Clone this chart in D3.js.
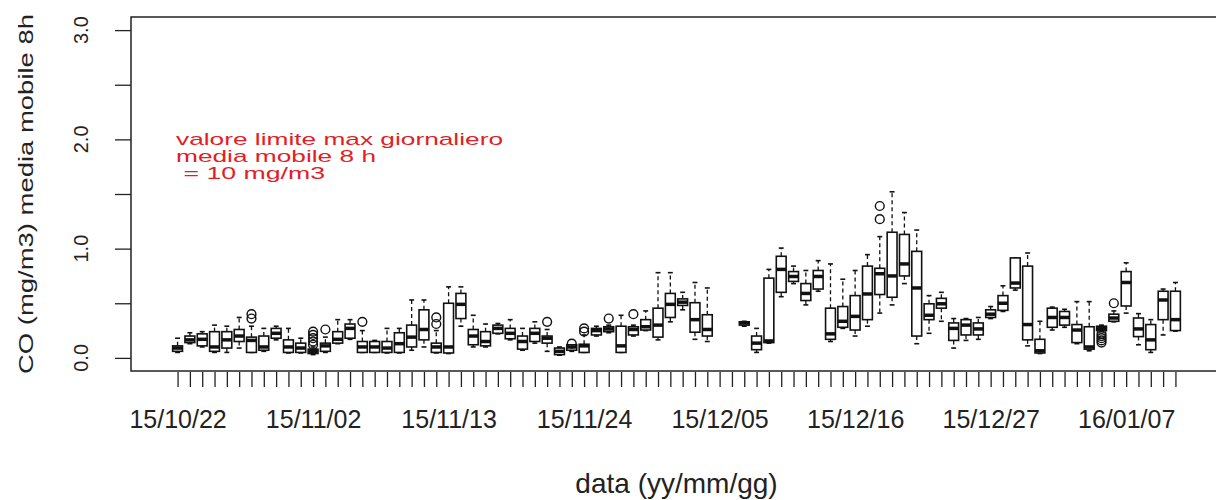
<!DOCTYPE html>
<html>
<head>
<meta charset="utf-8">
<script src="https://cdn.jsdelivr.net/npm/d3@7"></script>
<style>
  body { margin: 0; background: #fff; }
  svg { display: block; }
  text { font-family: "Liberation Sans", Arial, sans-serif; fill: #222; }
</style>
</head>
<body>
<svg id="chart" width="1216" height="500"></svg>
<script>
// Daily boxplots of CO 8-hour moving average (mg/m3)
const days = [
  "15/10/22","15/10/23","15/10/24","15/10/25","15/10/26","15/10/27","15/10/28","15/10/29","15/10/30","15/10/31",
  "15/11/01","15/11/02","15/11/03","15/11/04","15/11/05","15/11/06","15/11/07","15/11/08","15/11/09","15/11/10",
  "15/11/11","15/11/12","15/11/13","15/11/14","15/11/15","15/11/16","15/11/17","15/11/18","15/11/19","15/11/20",
  "15/11/21","15/11/22","15/11/23","15/11/24","15/11/25","15/11/26","15/11/27","15/11/28","15/11/29","15/11/30",
  "15/12/01","15/12/02","15/12/03","15/12/04","15/12/05","15/12/06","15/12/07","15/12/08","15/12/09","15/12/10",
  "15/12/11","15/12/12","15/12/13","15/12/14","15/12/15","15/12/16","15/12/17","15/12/18","15/12/19","15/12/20",
  "15/12/21","15/12/22","15/12/23","15/12/24","15/12/25","15/12/26","15/12/27","15/12/28","15/12/29","15/12/30",
  "15/12/31","16/01/01","16/01/02","16/01/03","16/01/04","16/01/05","16/01/06","16/01/07","16/01/08","16/01/09",
  "16/01/10","16/01/11"
];

const whiskerLow = [
  0.05,0.13,0.10,0.05,0.05,0.09,0.05,0.06,0.165,0.045,
  0.045,0.03,0.05,0.13,0.17,0.05,0.05,0.045,0.045,0.07,
  0.10,0.045,0.04,0.29,0.10,0.10,0.22,0.165,0.07,0.135,
  0.06,0.025,0.06,0.05,0.20,0.23,0.05,0.20,0.25,0.165,
  0.33,0.44,0.17,0.15,null,null,0.29,0.05,0.135,0.56,
  0.68,0.485,0.61,0.15,0.27,0.20,0.29,0.41,0.485,0.68,
  0.13,0.225,0.335,0.09,0.16,0.17,0.36,0.425,0.62,0.11,
  0.04,0.255,0.28,0.13,0.065,0.24,0.33,0.41,0.12,0.05,
  0.21,0.245
];
const quartile1 = [
  0.06,0.14,0.11,0.06,0.09,0.15,0.05,0.07,0.18,0.05,
  0.05,0.04,0.06,0.135,0.18,0.05,0.05,0.05,0.05,0.10,
  0.165,0.05,0.045,0.36,0.12,0.11,0.225,0.175,0.08,0.15,
  0.135,0.03,0.07,0.05,0.21,0.24,0.05,0.21,0.255,0.19,
  0.37,0.48,0.235,0.20,null,null,0.30,0.075,0.14,0.60,
  0.70,0.525,0.63,0.17,0.28,0.255,0.35,0.58,0.555,0.75,
  0.20,0.35,0.455,0.16,0.21,0.21,0.37,0.435,0.64,0.165,
  0.045,0.28,0.30,0.14,0.08,0.25,0.335,0.475,0.195,0.075,
  0.35,0.25
];
const medians = [
  0.09,0.165,0.17,0.10,0.165,0.20,0.16,0.10,0.225,0.10,
  0.09,0.06,0.11,0.17,0.27,0.10,0.10,0.09,0.13,0.19,
  0.26,0.10,0.10,0.49,0.20,0.15,0.27,0.225,0.15,0.225,
  0.18,0.06,0.10,0.11,0.25,0.265,0.11,0.26,0.285,0.30,
  0.49,0.51,0.35,0.26,null,null,0.32,0.135,0.155,0.81,
  0.745,0.59,0.745,0.22,0.335,0.38,0.585,0.77,0.75,0.86,
  0.64,0.39,0.495,0.27,0.30,0.265,0.40,0.50,0.685,0.305,
  0.065,0.37,0.37,0.255,0.10,0.27,0.365,0.69,0.265,0.165,
  0.53,0.35
];
const quartile3 = [
  0.11,0.20,0.22,0.24,0.24,0.26,0.19,0.20,0.27,0.165,
  0.135,0.08,0.135,0.24,0.31,0.15,0.15,0.15,0.23,0.30,
  0.44,0.135,0.50,0.59,0.26,0.24,0.30,0.27,0.20,0.27,
  0.20,0.09,0.12,0.125,0.27,0.285,0.29,0.285,0.35,0.455,
  0.59,0.54,0.505,0.395,null,null,0.33,0.20,0.73,0.93,
  0.79,0.68,0.80,0.455,0.47,0.57,0.84,0.82,1.15,1.13,
  0.975,0.495,0.545,0.32,0.35,0.32,0.44,0.57,0.915,0.84,
  0.17,0.455,0.425,0.305,0.285,0.29,0.40,0.79,0.365,0.305,
  0.61,0.61
];
const whiskerHigh = [
  0.18,0.23,0.24,0.30,0.29,0.37,0.29,0.27,0.29,0.27,
  0.18,0.10,0.19,0.35,0.35,0.25,0.16,0.27,0.27,0.53,
  0.53,0.25,0.65,0.65,0.39,0.31,0.315,0.35,0.27,0.33,
  0.26,0.10,0.12,0.21,0.29,0.30,0.39,0.30,0.43,0.78,
  0.78,0.60,0.69,0.64,null,null,0.335,0.27,0.81,1.005,
  0.84,0.80,0.89,0.86,0.72,0.80,0.945,1.11,1.52,1.33,
  1.17,0.57,0.60,0.36,0.36,0.37,0.47,0.66,0.915,0.96,
  0.335,0.465,0.445,0.515,0.515,0.30,0.43,0.87,0.405,0.35,
  0.63,0.69
];

// Points beyond the whiskers
const outlierDays = [
  "15/10/28","15/10/28","15/11/02","15/11/02","15/11/02","15/11/02","15/11/02",
  "15/11/03","15/11/06","15/11/12","15/11/12","15/11/21","15/11/23","15/11/24","15/11/24",
  "15/11/26","15/11/28","15/12/18","15/12/18",
  "16/01/05","16/01/05","16/01/05","16/01/05","16/01/05","16/01/06"
];
const outlierValues = [
  0.36,0.40,0.12,0.15,0.18,0.21,0.24,
  0.26,0.33,0.31,0.37,0.33,0.13,0.24,0.27,
  0.36,0.40,1.27,1.39,
  0.14,0.16,0.18,0.20,0.22,0.50
];

const yTickValues = [0, 0.5, 1, 1.5, 2, 2.5, 3];
const yLabelValues = [0, 1, 2, 3];
const yLabelTexts = ["0.0", "1.0", "2.0", "3.0"];
const xTickLabels = ["15/10/22","15/11/02","15/11/13","15/11/24","15/12/05","15/12/16","15/12/27","16/01/07"];

const noteLines = ["valore limite max giornaliero", "media mobile 8 h", " = 10 mg/m3"];
const noteWidths = [327, 200, 149];

const svg = d3.select("#chart");
const plot = { left: 131, right: 1222, top: 17, bottom: 371 };

const n = days.length;
const x = d3.scaleLinear()
  .domain([0.5 - 0.04 * n, n + 0.5 + 0.04 * n])
  .range([plot.left, plot.right]);
const y = d3.scaleLinear()
  .domain([-0.12, 3.12])
  .range([plot.bottom, plot.top]);

const pos = d => x(days.indexOf(d) + 1);
const step = x(2) - x(1);
const boxHalf = step * 0.8 / 2;
const stapleHalf = boxHalf * 0.5;

// frame
svg.append("rect")
  .attr("x", plot.left).attr("y", plot.top)
  .attr("width", plot.right - plot.left).attr("height", plot.bottom - plot.top)
  .attr("fill", "none").attr("stroke", "#222").attr("stroke-width", 1.5);

// x axis
const xAxis = d3.axisBottom(x)
  .tickValues(d3.range(1, n + 1))
  .tickSize(15)
  .tickPadding(23)
  .tickFormat(i => xTickLabels.includes(days[i - 1]) ? days[i - 1] : "");
const gx = svg.append("g").attr("transform", `translate(0,${plot.bottom + 1})`).call(xAxis);
gx.select(".domain").remove();
gx.selectAll("line").attr("stroke", "#222").attr("stroke-width", 1.3);
gx.selectAll("text").attr("font-size", 25).attr("fill", "#222")
  .style("font-family", "'Liberation Sans', Arial, sans-serif");

// y axis
const yAxis = d3.axisLeft(y).tickValues(yTickValues).tickSize(16).tickFormat("");
const gy = svg.append("g").attr("transform", `translate(${plot.left},0)`).call(yAxis);
gy.select(".domain").remove();
gy.selectAll("line").attr("stroke", "#222").attr("stroke-width", 1.3);

svg.append("g").selectAll("text").data(yLabelValues).join("text")
  .attr("x", 88).attr("y", d => y(d))
  .attr("transform", d => `rotate(-90,88,${y(d)})`)
  .attr("text-anchor", "middle")
  .attr("font-size", 20)
  .text((d, i) => yLabelTexts[i]);

// axis titles
svg.append("text")
  .attr("x", 33).attr("y", (plot.top + plot.bottom) / 2)
  .attr("transform", `rotate(-90,33,${(plot.top + plot.bottom) / 2})`)
  .attr("text-anchor", "middle")
  .attr("font-size", 21)
  .attr("textLength", 360).attr("lengthAdjust", "spacingAndGlyphs")
  .text("CO (mg/m3) media mobile 8h");

svg.append("text")
  .attr("x", (plot.left + plot.right) / 2).attr("y", 493)
  .attr("text-anchor", "middle")
  .attr("font-size", 28)
  .text("data (yy/mm/gg)");

// boxes
const stats = days.map((d, i) => ({
  day: d, lo: whiskerLow[i], q1: quartile1[i], med: medians[i], q3: quartile3[i], hi: whiskerHigh[i]
})).filter(s => s.med !== null);

const g = svg.append("g").attr("stroke", "#111").attr("fill", "none");
const boxes = g.selectAll("g.box").data(stats).join("g").attr("class", "box");

boxes.append("line")
  .attr("x1", s => pos(s.day)).attr("x2", s => pos(s.day))
  .attr("y1", s => y(s.q3)).attr("y2", s => y(s.hi))
  .attr("stroke-width", 1.3).attr("stroke-dasharray", "4,3");
boxes.append("line")
  .attr("x1", s => pos(s.day)).attr("x2", s => pos(s.day))
  .attr("y1", s => y(s.q1)).attr("y2", s => y(s.lo))
  .attr("stroke-width", 1.3).attr("stroke-dasharray", "4,3");
boxes.append("line")
  .attr("x1", s => pos(s.day) - stapleHalf).attr("x2", s => pos(s.day) + stapleHalf)
  .attr("y1", s => y(s.hi)).attr("y2", s => y(s.hi))
  .attr("stroke-width", 1.6);
boxes.append("line")
  .attr("x1", s => pos(s.day) - stapleHalf).attr("x2", s => pos(s.day) + stapleHalf)
  .attr("y1", s => y(s.lo)).attr("y2", s => y(s.lo))
  .attr("stroke-width", 1.6);
boxes.append("rect")
  .attr("x", s => pos(s.day) - boxHalf).attr("width", boxHalf * 2)
  .attr("y", s => y(s.q3)).attr("height", s => Math.max(0.5, y(s.q1) - y(s.q3)))
  .attr("fill", "#fff").attr("stroke-width", 1.6);
boxes.append("line")
  .attr("x1", s => pos(s.day) - boxHalf).attr("x2", s => pos(s.day) + boxHalf)
  .attr("y1", s => y(s.med)).attr("y2", s => y(s.med))
  .attr("stroke-width", 3.5);

// outliers
g.selectAll("circle").data(outlierValues).join("circle")
  .attr("cx", (v, i) => pos(outlierDays[i]))
  .attr("cy", v => y(v))
  .attr("r", 4.4)
  .attr("stroke-width", 1.4);

// limit note
svg.append("g").selectAll("text").data(noteLines).join("text")
  .attr("x", 176)
  .attr("y", (d, i) => 145 + i * 17)
  .attr("font-size", 17)
  .attr("textLength", (d, i) => noteWidths[i])
  .attr("lengthAdjust", "spacingAndGlyphs")
  .attr("xml:space", "preserve")
  .style("white-space", "pre")
  .style("fill", "#e31d25")
  .text(d => d);
</script>
</body>
</html>
